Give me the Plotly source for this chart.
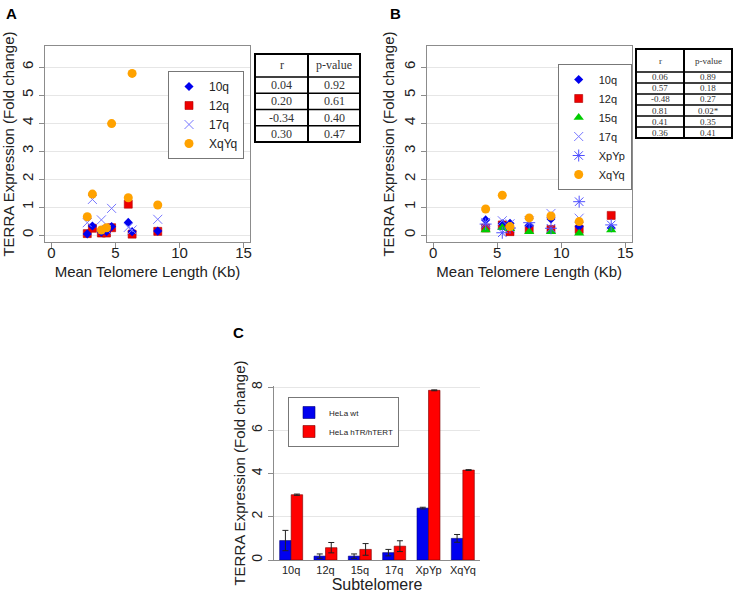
import plotly.graph_objects as go

# ---------------- data ----------------
# Panel A: mean telomere length (Kb) of samples
A_len = [2.8, 3.2, 3.9, 4.3, 4.7, 6.0, 6.3, 8.3]
A_10q = [0.04, 0.32, 0.10, 0.12, 0.30, 0.45, 0.12, 0.14]
A_12q = [0.05, 0.24, 0.07, 0.07, 0.26, 1.10, 0.03, 0.13]
A_17q = [0.44, 1.27, 0.54, 0.20, 0.95, 0.27, 0.18, 0.56]
A_XqYq = [0.65, 1.46, 0.18, 0.26, 3.98, 1.33, 5.77, 1.07]

# Panel B
B_len = [4.1, 5.4, 6.0, 7.5, 9.2, 11.4, 13.9]
B_10q = [0.54, 0.40, 0.42, 0.35, 0.57, 0.30, 0.25]
B_12q = [0.25, 0.36, 0.12, 0.20, 0.20, 0.20, 0.70]
B_15q = [0.18, 0.26, 0.22, 0.12, 0.12, 0.06, 0.18]
B_17q = [0.45, 0.51, 0.40, 0.50, 0.77, 0.60, 1.79]
B_XpYp = [0.39, 0.08, 0.25, 0.44, 0.24, 1.19, 0.36]
B_XqYq = [0.93, 1.42, 0.30, 0.61, 0.68, 0.48, 2.01]

# Correlation tables
tabA_r = ["0.04", "0.20", "-0.34", "0.30"]
tabA_p = ["0.92", "0.61", "0.40", "0.47"]
tabB_r = ["0.06", "0.57", "-0.48", "0.81", "0.41", "0.36"]
tabB_p = ["0.89", "0.18", "0.27", "0.02*", "0.35", "0.41"]
tab_header = ["r", "p-value"]

# Panel C
C_cats = ["10q", "12q", "15q", "17q", "XpYp", "XqYq"]
C_wt = [0.90, 0.18, 0.18, 0.34, 2.40, 1.00]
C_wt_err = [0.47, 0.10, 0.10, 0.15, 0.04, 0.18]
C_tert = [3.02, 0.57, 0.49, 0.64, 7.85, 4.16]
C_tert_err = [0.03, 0.24, 0.27, 0.25, 0.02, 0.02]

xticks_AB = [0, 5, 10, 15]
yticks_AB = [0, 1, 2, 3, 4, 5, 6]
yticks_C = [0, 2, 4, 6, 8]

# ---------------- layout helpers ----------------
W, H = 734, 600
def fx(px):
    return px / W
def fy(py):
    return 1 - py / H

SANS = "Liberation Sans, Arial, sans-serif"
SERIF = "Liberation Serif, Times New Roman, serif"

BLUE = "#0000EE"
RED = "#EE0000"
ORANGE = "#FFA200"
LILAC = "#7878FF"
GREEN = "#00CC00"
AST = "#5050FF"

fig = go.Figure()

styles = {
    "10q": dict(symbol="diamond", size=7, color=BLUE, line=dict(width=0)),
    "12q": dict(symbol="square", size=8, color=RED, line=dict(width=0.6, color="#B00000")),
    "15q": dict(symbol="triangle-up", size=9, color=GREEN, line=dict(width=0)),
    "17q": dict(symbol="x-thin-open", size=9, color=LILAC, line=dict(width=1, color=LILAC)),
    "XpYp": dict(symbol="asterisk-open", size=10, color=AST, line=dict(width=1, color=AST)),
    "XqYq": dict(symbol="circle", size=9, color=ORANGE, line=dict(width=0)),
}
rank = {"10q": 1, "12q": 2, "15q": 3, "17q": 4, "XpYp": 5, "XqYq": 6}

# Panel A traces (drawing order)
for name, ys in [("12q", A_12q), ("10q", A_10q), ("17q", A_17q), ("XqYq", A_XqYq)]:
    fig.add_trace(go.Scatter(x=A_len, y=ys, mode="markers", name=name,
                             marker=styles[name], xaxis="x", yaxis="y",
                             legend="legend", legendrank=rank[name]))

# Panel B traces
for name, ys in [("12q", B_12q), ("10q", B_10q), ("15q", B_15q), ("17q", B_17q),
                 ("XpYp", B_XpYp), ("XqYq", B_XqYq)]:
    fig.add_trace(go.Scatter(x=B_len, y=ys, mode="markers", name=name,
                             marker=styles[name], xaxis="x2", yaxis="y2",
                             legend="legend2", legendrank=rank[name]))

# Panel C bars
fig.add_trace(go.Bar(x=C_cats, y=C_wt, name="HeLa wt", xaxis="x3", yaxis="y3",
                     marker=dict(color="#0000F0", line=dict(color="#00007A", width=0.6)),
                     error_y=dict(type="data", array=C_wt_err, color="#222", thickness=1, width=3),
                     legend="legend3"))
fig.add_trace(go.Bar(x=C_cats, y=C_tert, name="HeLa hTR/hTERT", xaxis="x3", yaxis="y3",
                     marker=dict(color="#FF0000", line=dict(color="#7A0000", width=0.6)),
                     error_y=dict(type="data", array=C_tert_err, color="#222", thickness=1, width=3),
                     legend="legend3"))

GRID = "#E6E6E6"
AXC = "#8C8C8C"

def ab_xaxis(dom, anchor):
    return dict(domain=dom, anchor=anchor, range=[-0.5, 15.5], tickvals=xticks_AB,
                showline=True, mirror=True, linecolor=AXC, linewidth=1, automargin=False,
                ticks="outside", ticklen=5, tickcolor=AXC, showgrid=False, zeroline=False,
                ticklabelstandoff=-8,
                tickfont=dict(family=SANS, size=15, color="#222"),
                title=dict(text="Mean Telomere Length (Kb)", font=dict(family=SANS, size=15, color="#222"),
                           standoff=6))

def ab_yaxis(dom, anchor):
    return dict(domain=dom, anchor=anchor, range=[-0.25, 6.75], tickvals=yticks_AB,
                showline=True, mirror=True, linecolor=AXC, linewidth=1, automargin=False,
                ticks="outside", ticklen=5, tickcolor=AXC, tickangle=-90,
                showgrid=True, gridcolor=GRID, zeroline=False,
                tickfont=dict(family=SANS, size=15, color="#222"),
                title=dict(text="TERRA Expression (Fold change)", font=dict(family=SANS, size=15, color="#222"),
                           standoff=2))

ydomAB = [fy(242), fy(46)]

fig.update_layout(
    width=W, height=H,
    margin=dict(l=0, r=0, t=0, b=0, pad=0, autoexpand=False),
    paper_bgcolor="white", plot_bgcolor="white",
    showlegend=True,
    xaxis=ab_xaxis([fx(45), fx(250)], "y"),
    yaxis=ab_yaxis(ydomAB, "x"),
    xaxis2=ab_xaxis([fx(426.7), fx(631.7)], "y2"),
    yaxis2=ab_yaxis(ydomAB, "x2"),
    xaxis3=dict(domain=[fx(274), fx(480)], anchor="y3", showline=True, linecolor=AXC,
                linewidth=1, ticks="", showgrid=False, automargin=False,
                tickfont=dict(family=SANS, size=11, color="#222"),
                title=dict(text="Subtelomere", font=dict(family=SANS, size=16, color="#222"), standoff=2)),
    yaxis3=dict(domain=[fy(560), fy(386)], anchor="x3", range=[0, 8.05], tickvals=yticks_C,
                showline=True, linecolor=AXC, linewidth=1, ticks="outside", ticklen=5,
                tickcolor=AXC, tickangle=-90, showgrid=True, gridcolor=GRID, zeroline=False,
                automargin=False,
                tickfont=dict(family=SANS, size=14, color="#222"),
                title=dict(text="TERRA Expression (Fold change)", font=dict(family=SANS, size=15, color="#222"),
                           standoff=0)),
    barmode="group", bargap=0.33, bargroupgap=0.0,
    legend=dict(x=fx(244), y=fy(71), xanchor="right", yanchor="top", bgcolor="white",
                bordercolor="#777", borderwidth=1, font=dict(family=SANS, size=12, color="#222"),
                itemwidth=30, tracegroupgap=0),
    legend2=dict(x=fx(631.7), y=fy(64), xanchor="right", yanchor="top", bgcolor="white",
                 bordercolor="#777", borderwidth=1, font=dict(family=SANS, size=11, color="#222"),
                 itemwidth=30),
    legend3=dict(x=fx(288), y=fy(397), xanchor="left", yanchor="top", bgcolor="white",
                 bordercolor="#777", borderwidth=1, font=dict(family=SANS, size=8, color="#222"),
                 itemwidth=30),
)

# panel letters
for letter, (px, py) in {"A": (11, 14), "B": (395, 14), "C": (239, 332)}.items():
    fig.add_annotation(x=fx(px), y=fy(py), xref="paper", yref="paper", text=f"<b>{letter}</b>",
                       showarrow=False, xanchor="center", yanchor="middle",
                       font=dict(family=SANS, size=15, color="black"))

# tables drawn as shapes + text
def draw_table(x0, xm, x1, ylines, rvals, pvals, fsize):
    fig.add_shape(type="rect", xref="paper", yref="paper", x0=fx(x0), x1=fx(x1),
                  y0=fy(ylines[-1]), y1=fy(ylines[0]), line=dict(color="black", width=2))
    fig.add_shape(type="line", xref="paper", yref="paper", x0=fx(xm), x1=fx(xm),
                  y0=fy(ylines[-1]), y1=fy(ylines[0]), line=dict(color="black", width=2))
    for yl in ylines[1:-1]:
        fig.add_shape(type="line", xref="paper", yref="paper", x0=fx(x0), x1=fx(x1),
                      y0=fy(yl), y1=fy(yl), line=dict(color="black", width=1.6))
    col_r = [tab_header[0]] + list(rvals)
    col_p = [tab_header[1]] + list(pvals)
    for i in range(len(ylines) - 1):
        yc = (ylines[i] + ylines[i + 1]) / 2
        for xc, txt in [((x0 + xm) / 2, col_r[i]), ((xm + x1) / 2, col_p[i])]:
            fig.add_annotation(x=fx(xc), y=fy(yc), xref="paper", yref="paper", text=txt,
                               showarrow=False, xanchor="center", yanchor="middle", borderpad=0,
                               font=dict(family=SERIF, size=fsize, color="#333"))

rowA = (142 - 77) / len(tabA_r)
draw_table(255, 308, 360, [54, 77] + [77 + rowA * (k + 1) for k in range(len(tabA_r))],
           tabA_r, tabA_p, 12)
rowB = (138 - 72) / len(tabB_r)
draw_table(636, 684, 732, [49, 72] + [72 + rowB * (k + 1) for k in range(len(tabB_r))],
           tabB_r, tabB_p, 9)

# remove the default page margin so the figure fills the window exactly
fig.write_html("out.html", config={"displayModeBar": False},
               post_script="document.body.style.margin='0px';")
